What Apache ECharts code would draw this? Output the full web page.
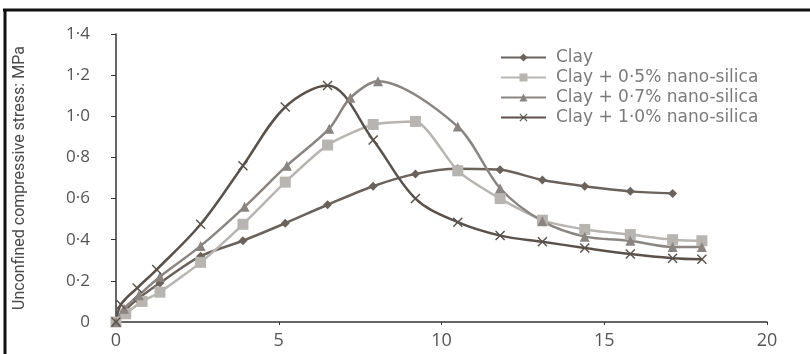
<!DOCTYPE html>
<html>
<head>
<meta charset="utf-8">
<title>Unconfined compressive stress</title>
<script src="https://cdn.jsdelivr.net/npm/echarts@6/dist/echarts.min.js"></script>
<style>
  html, body { margin: 0; padding: 0; background: #fff; }
  #chart { width: 810px; height: 354px; }
</style>
</head>
<body>
<div id="chart"></div>
<script>
// strain (%) vs stress (MPa)
const seriesNames = [
  'Clay',
  'Clay + 0·5% nano-silica',
  'Clay + 0·7% nano-silica',
  'Clay + 1·0% nano-silica'
]
const clayX = [0, 0.25, 0.65, 1.35, 2.6, 3.9, 5.2, 6.5, 7.9, 9.2, 10.5, 11.8, 13.1, 14.4, 15.8, 17.1]
const clayY = [0, 0.05, 0.11, 0.19, 0.32, 0.395, 0.48, 0.57, 0.66, 0.72, 0.745, 0.74, 0.69, 0.66, 0.635, 0.625]
const ns05X = [0, 0.3, 0.8, 1.35, 2.6, 3.9, 5.2, 6.5, 7.9, 9.2, 10.5, 11.8, 13.1, 14.4, 15.8, 17.1, 18.0]
const ns05Y = [0, 0.04, 0.1, 0.145, 0.29, 0.475, 0.68, 0.86, 0.96, 0.975, 0.735, 0.6, 0.495, 0.45, 0.425, 0.4, 0.395]
const ns07X = [0, 0.25, 0.7, 1.35, 2.6, 3.95, 5.25, 6.55, 7.2, 8.05, 10.5, 11.8, 13.1, 14.4, 15.8, 17.1, 18.0]
const ns07Y = [0, 0.065, 0.13, 0.22, 0.37, 0.56, 0.76, 0.94, 1.09, 1.17, 0.95, 0.65, 0.49, 0.415, 0.395, 0.365, 0.365]
const ns10X = [0, 0.15, 0.65, 1.25, 2.6, 3.9, 5.2, 6.5, 7.9, 9.2, 10.5, 11.8, 13.1, 14.4, 15.8, 17.1, 18.0]
const ns10Y = [0, 0.085, 0.165, 0.255, 0.475, 0.76, 1.045, 1.15, 0.885, 0.6, 0.485, 0.42, 0.39, 0.36, 0.33, 0.31, 0.305]
const xTicks = [0, 5, 10, 15, 20]
const yTicks = [0, 0.2, 0.4, 0.6, 0.8, 1.0, 1.2, 1.4]

const crossPath = 'path://M1,0L5,4L9,0L10,1L6,5L10,9L9,10L5,6L1,10L0,9L4,5L0,1Z'
const pair = (xs, ys) => xs.map((x, i) => [x, ys[i]])
const font = '"Open Sans", sans-serif'

const chart = echarts.init(document.getElementById('chart'))

function makeSeries(name, data, color, symbol, size, smooth) {
  return {
    name: name,
    type: 'line',
    data: data,
    smooth: smooth,
    symbol: symbol,
    symbolSize: size,
    lineStyle: { color: color, width: 2.5 },
    itemStyle: { color: color },
    z: 2
  }
}

chart.setOption({
  animation: false,
  grid: { left: 116, right: 43, top: 34, bottom: 32 },
  legend: {
    orient: 'vertical',
    left: 495,
    top: 43,
    itemWidth: 45,
    itemHeight: 10,
    itemGap: 1,
    textStyle: { fontFamily: '"DejaVu Sans", sans-serif', fontSize: 17, lineHeight: 19, color: '#7a7a7a', padding: [0, 0, 0, 5] },
    data: seriesNames
  },
  xAxis: {
    type: 'value',
    min: 0,
    max: 20,
    interval: 5,
    axisLine: { lineStyle: { color: '#333', width: 1.5 } },
    axisTick: { length: 3, lineStyle: { color: '#333' } },
    splitLine: { show: false },
    axisLabel: {
      margin: 10,
      fontFamily: font,
      fontSize: 18,
      color: '#555',
      formatter: v => xTicks.includes(v) ? String(v) : ''
    }
  },
  yAxis: {
    type: 'value',
    min: 0,
    max: 1.4,
    interval: 0.2,
    name: 'Unconfined compressive stress: MPa',
    nameLocation: 'middle',
    nameGap: 88,
    nameTextStyle: { fontFamily: 'Roboto, sans-serif', fontSize: 16, color: '#4a4a4a' },
    axisLine: { show: true, lineStyle: { color: '#333', width: 1.5 } },
    axisTick: { show: true, length: 5, lineStyle: { color: '#333' } },
    splitLine: { show: false },
    axisLabel: {
      margin: 26,
      fontFamily: font,
      fontSize: 17,
      color: '#555',
      formatter: v => {
        const t = yTicks.find(y => Math.abs(y - v) < 1e-6)
        if (t === undefined) return ''
        return t === 0 ? '0' : t.toFixed(1).replace('.', '·')
      }
    }
  },
  series: [
    makeSeries(seriesNames[0], pair(clayX, clayY), '#6b625c', 'diamond', 9, 0.3),
    makeSeries(seriesNames[1], pair(ns05X, ns05Y), '#b8b5b1', 'rect', 11, 0.2),
    makeSeries(seriesNames[2], pair(ns07X, ns07Y), '#8b8581', 'triangle', 10, 0.3),
    makeSeries(seriesNames[3], pair(ns10X, ns10Y), '#5a514b', crossPath, 10, 0.35)
  ],
  graphic: [
    { type: 'line', shape: { x1: 3, y1: 10, x2: 810, y2: 10 }, style: { stroke: '#111', lineWidth: 3 } },
    { type: 'line', shape: { x1: 5, y1: 9, x2: 5, y2: 354 }, style: { stroke: '#111', lineWidth: 3 } }
  ]
})
</script>
</body>
</html>
